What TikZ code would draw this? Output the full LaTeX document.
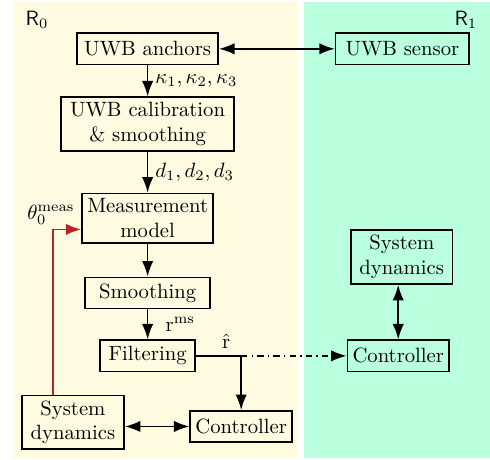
\documentclass[tikz,border=0pt]{standalone}
\usepackage{amsmath}
\usepackage{xcolor}
\usetikzlibrary{arrows.meta, positioning}

\definecolor{roomzero}{RGB}{254,251,224}
\definecolor{roomone}{RGB}{186,255,222}
\definecolor{feedback}{RGB}{176,40,40}

\tikzset{
	block/.style={draw, thick, align=center, inner sep=2.5pt, minimum height=0.53cm},
	flow/.style={thick, -{Latex[length=7.5pt, width=5.5pt]}},
	biflow/.style={thick, {Latex[length=7.5pt, width=5.5pt]}-{Latex[length=7.5pt, width=5.5pt]}}
}

\begin{document}
\begin{tikzpicture}
	\useasboundingbox (0,0) rectangle (8.33,7.82);
	
	% the two rooms
	\fill[roomzero] (0.24,0.03) rectangle (5.05,7.79);
	\fill[roomone] (5.17,0.03) rectangle (8.33,7.79);
	\node (rzero) at (0.63,7.48) {$\mathsf{R}_0$};
	\node (rone) at (7.92,7.48) {$\mathsf{R}_1$};
	
	% blocks in R0
	\node[block, minimum width=2.40cm] (anchors) at (2.51,6.99) {UWB anchors};
	\node[block, minimum width=2.94cm] (calib) at (2.51,5.71) {UWB calibration\\\& smoothing};
	\node[block, minimum width=2.13cm] (meas) at (2.51,4.11) {Measurement\\model};
	\node[block, minimum width=2.13cm] (smooth) at (2.51,2.84) {Smoothing};
	\node[block, minimum width=1.61cm] (filter) at (2.51,1.77) {Filtering};
	\node[block, minimum width=1.74cm] (sysL) at (1.24,0.64) {System\\dynamics};
	\node[block, minimum width=1.59cm] (ctrlL) at (4.10,0.57) {Controller};
	
	% blocks in R1
	\node[block, minimum width=2.27cm] (sensor) at (6.84,6.99) {UWB sensor};
	\node[block, minimum width=1.73cm] (sysR) at (6.83,3.45) {System\\dynamics};
	\node[block, minimum width=1.60cm] (ctrlR) at (6.77,1.77) {Controller};
	
	\coordinate (branch) at (ctrlL.north |- filter.east);
	\coordinate (redstart) at ([xshift=-0.34cm]sysL.north);
	\coordinate (redend) at ([yshift=-0.19cm]meas.west);
	\coordinate (corner) at (redstart |- redend);
	
	% signal flow
	\draw[biflow] (anchors) -- (sensor);
	\draw[flow] (anchors) -- node[right] {$\kappa_1,\kappa_2,\kappa_3$} (calib);
	\draw[flow] (calib) -- node[right] {$d_1,d_2,d_3$} (meas);
	\draw[flow] (meas) -- (smooth);
	\draw[flow] (smooth) -- node[right=5pt] {$\mathrm{r}^{\mathrm{ms}}$} (filter);
	\draw[thick] (filter.east) -- node[above, pos=0.67] {$\hat{\mathrm{r}}$} (branch);
	\draw[flow] (branch) -- (ctrlL.north);
	\draw[flow, dash dot] (branch) -- (ctrlR.west);
	\draw[biflow] (ctrlL.west -| sysL.east) -- (ctrlL.west);
	\draw[biflow] (ctrlR.north |- sysR.south) -- (ctrlR.north);
	
	% feedback of the measured angle
	\draw[flow, feedback] (redstart) -- (corner) node[black, above, inner sep=2pt, xshift=-1pt] {$\theta_0^{\mathrm{meas}}$} -- (redend);
\end{tikzpicture}
\end{document}
